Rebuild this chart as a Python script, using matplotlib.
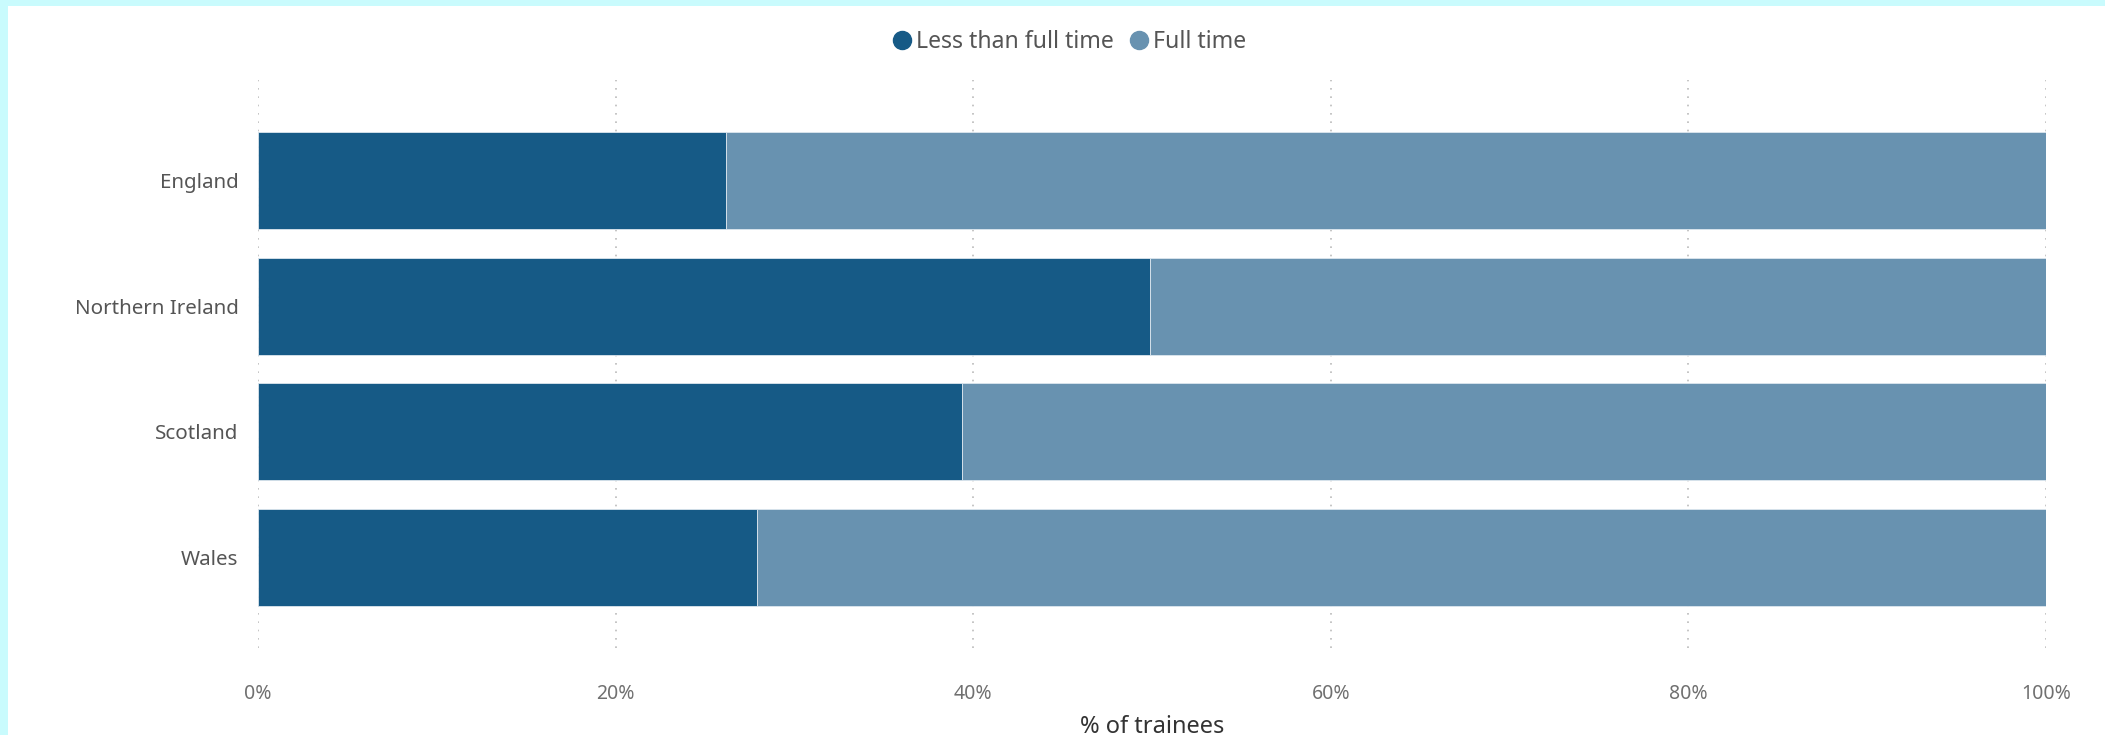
import matplotlib
matplotlib.use("Agg")
import matplotlib.pyplot as plt
from matplotlib.lines import Line2D
from matplotlib.patches import Rectangle
import numpy as np

plt.rcParams['font.family'] = ['Noto Sans', 'DejaVu Sans']

# share of trainees by contract type, per nation
nations = ["England", "Northern Ireland", "Scotland", "Wales"]
less_than_full_time = [26.2, 49.9, 39.4, 27.9]
full_time = [73.8, 50.1, 60.6, 72.1]
x_ticks = [0, 20, 40, 60, 80, 100]

dark_blue = "#165A86"
light_blue = "#6892B0"

fig = plt.figure(figsize=(21.05, 7.35), dpi=100)
fig.patch.set_facecolor("white")
# pale frame along the top and left edges
fig.patches.append(Rectangle((0, 1 - 6 / 735), 1, 6 / 735, transform=fig.transFigure,
                             facecolor="#C9FBFD", edgecolor="none", zorder=0))
fig.patches.append(Rectangle((0, 0), 8 / 2105, 1, transform=fig.transFigure,
                             facecolor="#C9FBFD", edgecolor="none", zorder=0))

ax = fig.add_axes([258 / 2105, 1 - 648 / 735, (2046 - 258) / 2105, (648 - 80) / 735])

y = np.arange(len(nations))
ax.barh(y, less_than_full_time, height=0.77, color=dark_blue, edgecolor="#DCE6EE",
        linewidth=0.6, zorder=2)
ax.barh(y, full_time, left=less_than_full_time, height=0.77, color=light_blue,
        edgecolor="#DCE6EE", linewidth=0.6, zorder=2)

ax.set_xlim(0, 100)
ax.set_ylim(3.72, -0.80)
ax.set_yticks(y)
ax.set_yticklabels(nations, fontsize=14.8, color="#555555")
ax.set_xticks(x_ticks)
ax.set_xticklabels([f"{t}%" for t in x_ticks], fontsize=14, color="#707070")
ax.tick_params(axis="both", length=0)
ax.tick_params(axis="y", pad=14)
ax.tick_params(axis="x", pad=26)
ax.xaxis.grid(True, linestyle=(0, (1, 4)), color="#BBBBBB", linewidth=1.2, zorder=0)
ax.set_axisbelow(True)
for s in ax.spines.values():
    s.set_visible(False)

ax.set_xlabel("% of trainees", fontsize=17, color="#333333", labelpad=8)

handles = [Line2D([], [], marker="o", linestyle="none", markersize=13, color=dark_blue),
           Line2D([], [], marker="o", linestyle="none", markersize=13, color=light_blue)]
fig.legend(handles, ["Less than full time", "Full time"], loc="center",
           bbox_to_anchor=(1068 / 2105, 1 - 42 / 735), ncol=2, frameon=False,
           fontsize=16.6, labelcolor="#555555", handletextpad=0.1, columnspacing=0.6,
           handlelength=1.0)

fig.savefig("out.png", dpi=100, facecolor=fig.get_facecolor())
